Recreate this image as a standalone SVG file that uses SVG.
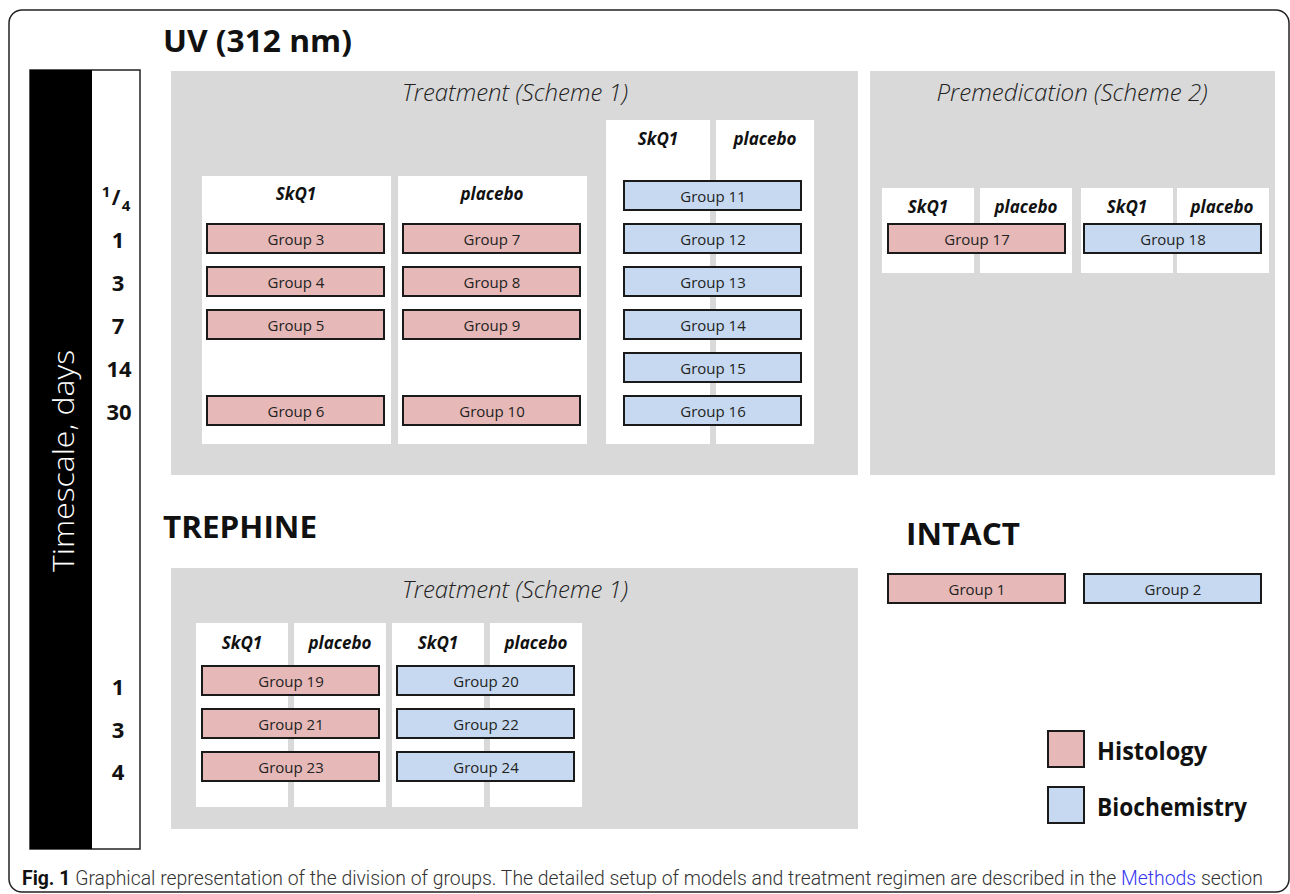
<svg xmlns="http://www.w3.org/2000/svg" width="1290" height="894" viewBox="0 0 1290 894">
<style>
.frame{fill:#fff;stroke:#222;stroke-width:1.5}
.panel{fill:#d9d9d9}
.col{fill:#fff}
.h{fill:#e6b8b7;stroke:#1a1a1a;stroke-width:2}
.b{fill:#c6d9f0;stroke:#1a1a1a;stroke-width:2}
.gt{font-family:"Open Sans","Noto Sans",sans-serif;font-size:15px;fill:#222;text-anchor:middle;dominant-baseline:central}
.lab{font-family:"Open Sans","Noto Sans",sans-serif;font-size:17px;font-weight:bold;font-style:italic;fill:#111;text-anchor:middle;dominant-baseline:central}
.scheme{font-family:"Open Sans","Noto Sans",sans-serif;font-size:23px;font-style:italic;font-weight:300;fill:#222;text-anchor:middle;dominant-baseline:central}
.title{font-family:"Open Sans","Noto Sans",sans-serif;font-size:31px;font-weight:bold;fill:#111}
.num{font-family:"Open Sans","Noto Sans",sans-serif;font-size:22px;font-weight:bold;fill:#111;text-anchor:middle;dominant-baseline:central}
.frac{font-family:"Open Sans","Noto Sans",sans-serif;font-weight:bold;fill:#111;text-anchor:middle}
.leg{font-family:"Open Sans","Noto Sans",sans-serif;font-size:25px;font-weight:bold;fill:#111;dominant-baseline:central}
.cap{font-family:Roboto,"Open Sans",sans-serif;font-size:19.4px;font-weight:300;fill:#333}
.capb{font-weight:bold;fill:#111}
.link{fill:#3535f0}
</style>
<rect width="1290" height="894" fill="#fff"/>
<rect class="frame" x="9" y="10" width="1280" height="882" rx="13"/>

<g id="timescale">
<rect x="30" y="70" width="110" height="779" fill="#fff" stroke="#222" stroke-width="1.5"/>
<rect x="30" y="70" width="62" height="779" fill="#000"/>
<text transform="translate(62,461) rotate(-90)" font-family="'Open Sans','Noto Sans',sans-serif" font-size="29" font-weight="300" fill="#fff" text-anchor="middle" dominant-baseline="central" textLength="222" lengthAdjust="spacingAndGlyphs">Timescale, days</text>
<text class="frac" x="106" y="197" font-size="15">1</text>
<text class="frac" x="116" y="205" font-size="21">/</text>
<text class="frac" x="126" y="211" font-size="15">4</text>
<text class="num" x="118" y="239">1</text>
<text class="num" x="118" y="282">3</text>
<text class="num" x="118" y="325">7</text>
<text class="num" x="119" y="368">14</text>
<text class="num" x="119" y="411">30</text>
<text class="num" x="118" y="686">1</text>
<text class="num" x="118" y="729">3</text>
<text class="num" x="118" y="771">4</text>
</g>

<text class="title" x="163" y="52" textLength="189" lengthAdjust="spacingAndGlyphs">UV (312 nm)</text>
<text class="title" x="163" y="538" textLength="154" lengthAdjust="spacingAndGlyphs">TREPHINE</text>
<text class="title" x="906" y="545" textLength="114" lengthAdjust="spacingAndGlyphs">INTACT</text>

<g id="uv-treatment">
<rect class="panel" x="171" y="71" width="687" height="404"/>
<text class="scheme" x="515" y="92" textLength="226" lengthAdjust="spacingAndGlyphs">Treatment (Scheme 1)</text>
<rect class="col" x="202" y="176" width="189" height="268"/>
<rect class="col" x="398" y="176" width="189" height="268"/>
<rect class="col" x="606" y="120" width="104" height="324"/>
<rect class="col" x="716" y="120" width="98" height="324"/>
<text class="lab" x="296" y="193">SkQ1</text>
<text class="lab" x="492" y="193">placebo</text>
<text class="lab" x="658" y="138">SkQ1</text>
<text class="lab" x="765" y="138">placebo</text>
</g>

<g id="group3"><rect class="h" x="207" y="224" width="177" height="29"/><text class="gt" x="296" y="239">Group 3</text></g>
<g id="group4"><rect class="h" x="207" y="267" width="177" height="29"/><text class="gt" x="296" y="282">Group 4</text></g>
<g id="group5"><rect class="h" x="207" y="310" width="177" height="29"/><text class="gt" x="296" y="325">Group 5</text></g>
<g id="group6"><rect class="h" x="207" y="396" width="177" height="29"/><text class="gt" x="296" y="411">Group 6</text></g>
<g id="group7"><rect class="h" x="403" y="224" width="177" height="29"/><text class="gt" x="492" y="239">Group 7</text></g>
<g id="group8"><rect class="h" x="403" y="267" width="177" height="29"/><text class="gt" x="492" y="282">Group 8</text></g>
<g id="group9"><rect class="h" x="403" y="310" width="177" height="29"/><text class="gt" x="492" y="325">Group 9</text></g>
<g id="group10"><rect class="h" x="403" y="396" width="177" height="29"/><text class="gt" x="492" y="411">Group 10</text></g>
<g id="group11"><rect class="b" x="624" y="181" width="177" height="29"/><text class="gt" x="713" y="196">Group 11</text></g>
<g id="group12"><rect class="b" x="624" y="224" width="177" height="29"/><text class="gt" x="713" y="239">Group 12</text></g>
<g id="group13"><rect class="b" x="624" y="267" width="177" height="29"/><text class="gt" x="713" y="282">Group 13</text></g>
<g id="group14"><rect class="b" x="624" y="310" width="177" height="29"/><text class="gt" x="713" y="325">Group 14</text></g>
<g id="group15"><rect class="b" x="624" y="353" width="177" height="29"/><text class="gt" x="713" y="368">Group 15</text></g>
<g id="group16"><rect class="b" x="624" y="396" width="177" height="29"/><text class="gt" x="713" y="411">Group 16</text></g>

<g id="uv-premedication">
<rect class="panel" x="870" y="71" width="405" height="404"/>
<text class="scheme" x="1072" y="92" textLength="271" lengthAdjust="spacingAndGlyphs">Premedication (Scheme 2)</text>
<rect class="col" x="882" y="188" width="92" height="85"/>
<rect class="col" x="980" y="188" width="92" height="85"/>
<rect class="col" x="1081" y="188" width="92" height="85"/>
<rect class="col" x="1177" y="188" width="92" height="85"/>
<text class="lab" x="928" y="206">SkQ1</text>
<text class="lab" x="1026" y="206">placebo</text>
<text class="lab" x="1127" y="206">SkQ1</text>
<text class="lab" x="1222" y="206">placebo</text>
</g>
<g id="group17"><rect class="h" x="888" y="224" width="177" height="29"/><text class="gt" x="977" y="239">Group 17</text></g>
<g id="group18"><rect class="b" x="1084" y="224" width="177" height="29"/><text class="gt" x="1173" y="239">Group 18</text></g>

<g id="trephine-treatment">
<rect class="panel" x="171" y="568" width="687" height="261"/>
<text class="scheme" x="515" y="589" textLength="226" lengthAdjust="spacingAndGlyphs">Treatment (Scheme 1)</text>
<rect class="col" x="196" y="623" width="92" height="184"/>
<rect class="col" x="294" y="623" width="92" height="184"/>
<rect class="col" x="392" y="623" width="92" height="184"/>
<rect class="col" x="490" y="623" width="92" height="184"/>
<text class="lab" x="242" y="642">SkQ1</text>
<text class="lab" x="340" y="642">placebo</text>
<text class="lab" x="438" y="642">SkQ1</text>
<text class="lab" x="536" y="642">placebo</text>
</g>
<g id="group19"><rect class="h" x="202" y="666" width="177" height="29"/><text class="gt" x="291" y="681">Group 19</text></g>
<g id="group21"><rect class="h" x="202" y="709" width="177" height="29"/><text class="gt" x="291" y="724">Group 21</text></g>
<g id="group23"><rect class="h" x="202" y="752" width="177" height="29"/><text class="gt" x="291" y="767">Group 23</text></g>
<g id="group20"><rect class="b" x="397" y="666" width="177" height="29"/><text class="gt" x="486" y="681">Group 20</text></g>
<g id="group22"><rect class="b" x="397" y="709" width="177" height="29"/><text class="gt" x="486" y="724">Group 22</text></g>
<g id="group24"><rect class="b" x="397" y="752" width="177" height="29"/><text class="gt" x="486" y="767">Group 24</text></g>

<g id="group1"><rect class="h" x="888" y="574" width="177" height="29"/><text class="gt" x="977" y="589">Group 1</text></g>
<g id="group2"><rect class="b" x="1084" y="574" width="177" height="29"/><text class="gt" x="1173" y="589">Group 2</text></g>

<g id="legend">
<rect class="h" x="1048" y="731" width="36" height="36"/>
<text class="leg" x="1097" y="750" textLength="110" lengthAdjust="spacingAndGlyphs">Histology</text>
<rect class="b" x="1048" y="787" width="36" height="36"/>
<text class="leg" x="1097" y="806" textLength="150" lengthAdjust="spacingAndGlyphs">Biochemistry</text>
</g>

<g id="connectors"></g>

<g id="caption">
<text class="cap" x="22" y="885"><tspan class="capb">Fig. 1</tspan> Graphical representation of the division of groups. The detailed setup of models and treatment regimen are described in the <tspan class="link">Methods</tspan> section</text>
</g>
</svg>
